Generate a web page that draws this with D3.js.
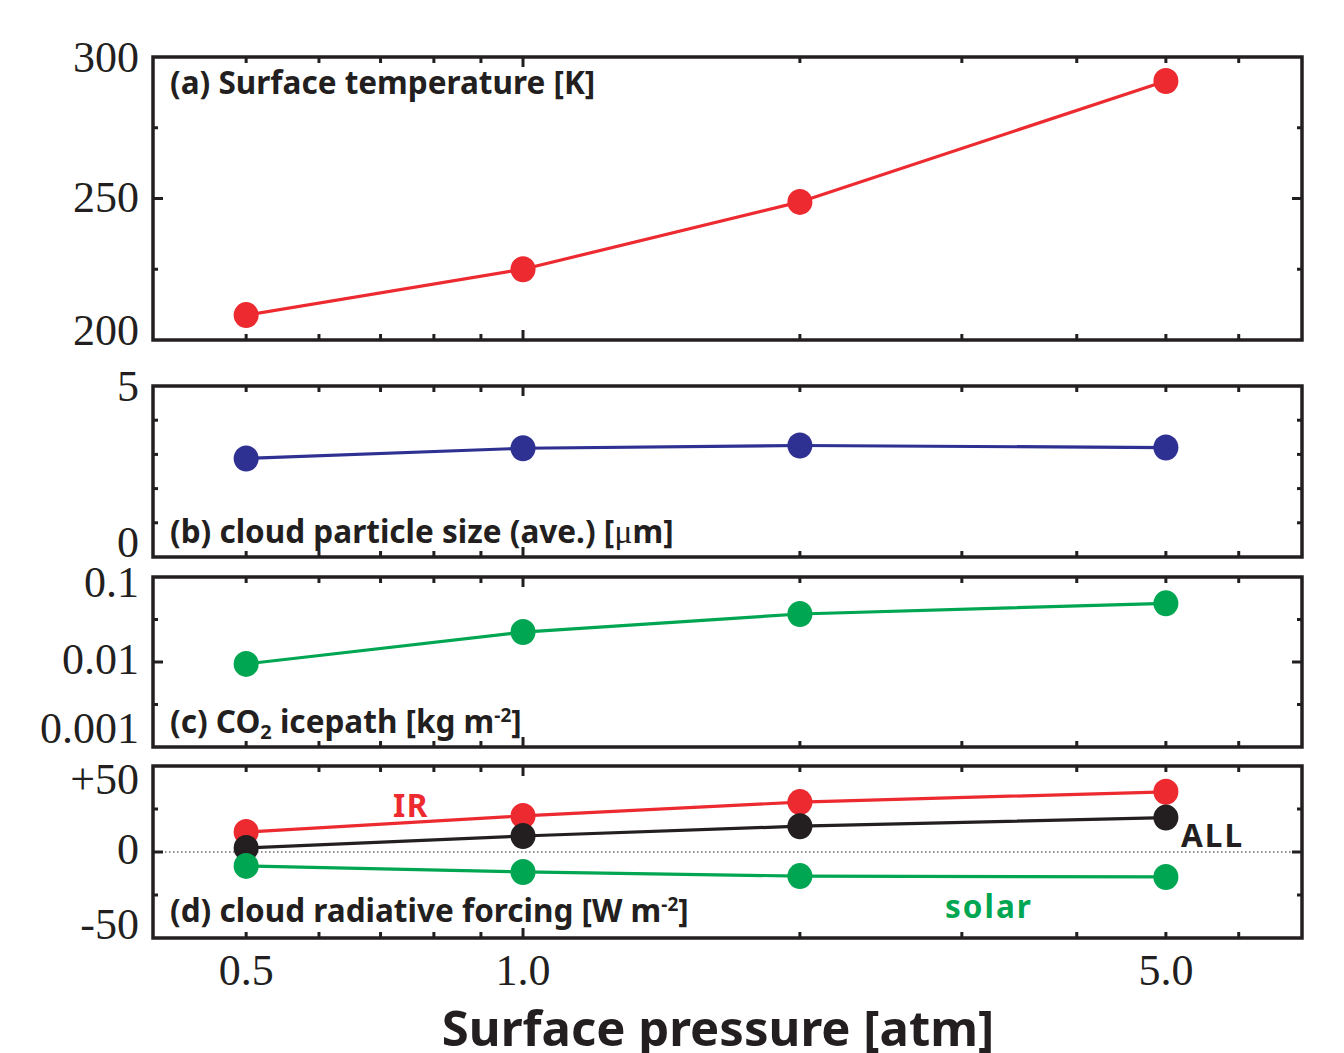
<!DOCTYPE html>
<html>
<head>
<meta charset="utf-8">
<script src="https://cdn.jsdelivr.net/npm/d3@7"></script>
<style>
  body { margin: 0; background: #fff; }
  svg { display: block; }
  .tick-label { font-family: "Liberation Serif", serif; font-size: 44px; fill: #231f20; }
  .panel-label { font-family: "Noto Sans", sans-serif; font-weight: bold; font-size: 31.5px; fill: #231f20; }
</style>
</head>
<body>
<svg id="chart" width="1344" height="1053"></svg>
<script>
// data
var pressure = [0.5, 1, 2, 5];
var surfTemp = [208.8, 225, 248.8, 291.5];
var particleSize = [2.88, 3.18, 3.26, 3.2];
var icePath = [0.0095, 0.0225, 0.0367, 0.049];
var crfIR = [11.6, 21, 29, 35];
var crfAll = [2.3, 9.3, 15, 20];
var crfSolar = [-8.1, -11.6, -14, -14.5];

var xTickValues = [0.5, 1, 5];
var xTickLabels = ["0.5", "1.0", "5.0"];
var xMinorTicks = [0.5, 0.6, 0.7, 0.8, 0.9, 2, 3, 4, 5, 6];

var red = "#ec2a2f", blue = "#2e3192", green = "#00a651", black = "#231f20";

var svg = d3.select("#chart");
var left = 153, right = 1302;

var x = d3.scaleLog().domain([0.396, 7.03]).range([left, right]);

var panels = [
  { top: 57, bottom: 340, scale: d3.scaleLinear().domain([200, 300]),
    labels: [200, 250, 300], labelText: ["200", "250", "300"], nudge: [-10, -2, 0],
    major: [250], minor: [225, 275],
    series: [{ values: surfTemp, color: red }] },
  { top: 386, bottom: 557, scale: d3.scaleLinear().domain([0, 5]),
    labels: [0, 5], labelText: ["0", "5"], nudge: [-15, 0],
    major: [], minor: [1, 2, 3, 4],
    series: [{ values: particleSize, color: blue }] },
  { top: 577, bottom: 747, scale: d3.scaleLog().domain([0.001, 0.1]),
    labels: [0.001, 0.01, 0.1], labelText: ["0.001", "0.01", "0.1"], nudge: [-19, -3, 5],
    major: [0.01], minor: [0.00316, 0.0316],
    series: [{ values: icePath, color: green }] },
  { top: 766, bottom: 938, scale: d3.scaleLinear().domain([-50, 50]),
    labels: [-50, 0, 50], labelText: ["-50", "0", "+50"], nudge: [-14, -3, 13],
    major: [0], minor: [-25, 25],
    series: [{ values: crfIR, color: red }, { values: crfAll, color: black }, { values: crfSolar, color: green }],
    zeroLine: true }
];

panels.forEach(function (p, i) {
  var y = p.scale.range([p.bottom, p.top]);
  var g = svg.append("g");

  if (p.zeroLine) {
    g.append("line")
      .attr("x1", left).attr("x2", right)
      .attr("y1", y(0)).attr("y2", y(0))
      .attr("stroke", black).attr("stroke-width", 1.2)
      .attr("stroke-dasharray", "1.5,2.5");
  }

  // inward ticks on all four sides
  var xt = xMinorTicks.concat([1]);
  xt.forEach(function (v) {
    var len = v === 1 ? 10 : 6;
    g.append("line").attr("x1", x(v)).attr("x2", x(v))
      .attr("y1", p.top).attr("y2", p.top + len)
      .attr("stroke", black).attr("stroke-width", 3);
    g.append("line").attr("x1", x(v)).attr("x2", x(v))
      .attr("y1", p.bottom).attr("y2", p.bottom - len)
      .attr("stroke", black).attr("stroke-width", 3);
  });
  p.major.map(function (v) { return [v, 10]; })
    .concat(p.minor.map(function (v) { return [v, 5]; }))
    .forEach(function (t) {
      g.append("line").attr("x1", left).attr("x2", left + t[1])
        .attr("y1", y(t[0])).attr("y2", y(t[0]))
        .attr("stroke", black).attr("stroke-width", 3);
      g.append("line").attr("x1", right).attr("x2", right - t[1])
        .attr("y1", y(t[0])).attr("y2", y(t[0]))
        .attr("stroke", black).attr("stroke-width", 3);
    });

  g.selectAll("text.ylab")
    .data(p.labels)
    .enter().append("text")
    .attr("class", "tick-label")
    .attr("x", 139)
    .attr("y", function (d, k) { return y(d) + p.nudge[k]; })
    .attr("dy", "0.35em")
    .attr("text-anchor", "end")
    .text(function (d, k) { return p.labelText[k]; });

  var line = d3.line()
    .x(function (d, k) { return x(pressure[k]); })
    .y(function (d) { return y(d); });

  p.series.forEach(function (s) {
    g.append("path")
      .datum(s.values)
      .attr("d", line)
      .attr("fill", "none")
      .attr("stroke", s.color)
      .attr("stroke-width", 3.2);
    g.selectAll(null)
      .data(s.values)
      .enter().append("ellipse")
      .attr("cx", function (d, k) { return x(pressure[k]); })
      .attr("cy", function (d) { return y(d); })
      .attr("rx", 12.5).attr("ry", 13)
      .attr("fill", s.color);
  });

  // frame
  g.append("rect")
    .attr("x", left).attr("y", p.top)
    .attr("width", right - left).attr("height", p.bottom - p.top)
    .attr("fill", "none").attr("stroke", black).attr("stroke-width", 3.5);
});

// panel titles
var t;
svg.append("text").attr("class", "panel-label").attr("x", 170).attr("y", 94)
  .text("(a) Surface temperature [K]");

t = svg.append("text").attr("class", "panel-label").attr("x", 170).attr("y", 543);
t.append("tspan").text("(b) cloud particle size (ave.) [");
t.append("tspan").attr("font-weight", "normal").attr("font-family", "Liberation Serif, serif").attr("font-size", 34).text("\u03bc");
t.append("tspan").text("m]");

t = svg.append("text").attr("class", "panel-label").attr("x", 170).attr("y", 733);
t.append("tspan").text("(c) CO");
t.append("tspan").attr("font-size", 20).attr("dy", 6).text("2");
t.append("tspan").attr("dy", -6).text(" icepath [kg m");
t.append("tspan").attr("font-size", 19).attr("dy", -11).text("-2");
t.append("tspan").attr("dy", 11).text("]");

t = svg.append("text").attr("class", "panel-label").attr("x", 170).attr("y", 922);
t.append("tspan").text("(d) cloud radiative forcing [W m");
t.append("tspan").attr("font-size", 19).attr("dy", -11).text("-2");
t.append("tspan").attr("dy", 11).text("]");

// series labels in panel d
svg.append("text").attr("class", "panel-label").attr("x", 393).attr("y", 817)
  .attr("font-size", 42).attr("letter-spacing", 1.5).style("fill", red).text("IR");
svg.append("text").attr("class", "panel-label").attr("x", 1181).attr("y", 847)
  .attr("font-size", 42).attr("letter-spacing", 2).text("ALL");
svg.append("text").attr("class", "panel-label").attr("x", 945).attr("y", 918)
  .attr("font-size", 42).attr("letter-spacing", 2).style("fill", green).text("solar");

// x axis labels
svg.selectAll("text.xlab")
  .data(xTickValues)
  .enter().append("text")
  .attr("class", "tick-label")
  .attr("x", function (d) { return x(d); })
  .attr("y", 985)
  .attr("text-anchor", "middle")
  .text(function (d, k) { return xTickLabels[k]; });

svg.append("text")
  .attr("x", 718).attr("y", 1046)
  .attr("text-anchor", "middle")
  .attr("font-family", "Noto Sans, sans-serif")
  .attr("font-weight", "bold")
  .attr("font-size", 49)
  .attr("fill", black)
  .text("Surface pressure [atm]");
</script>
</body>
</html>
